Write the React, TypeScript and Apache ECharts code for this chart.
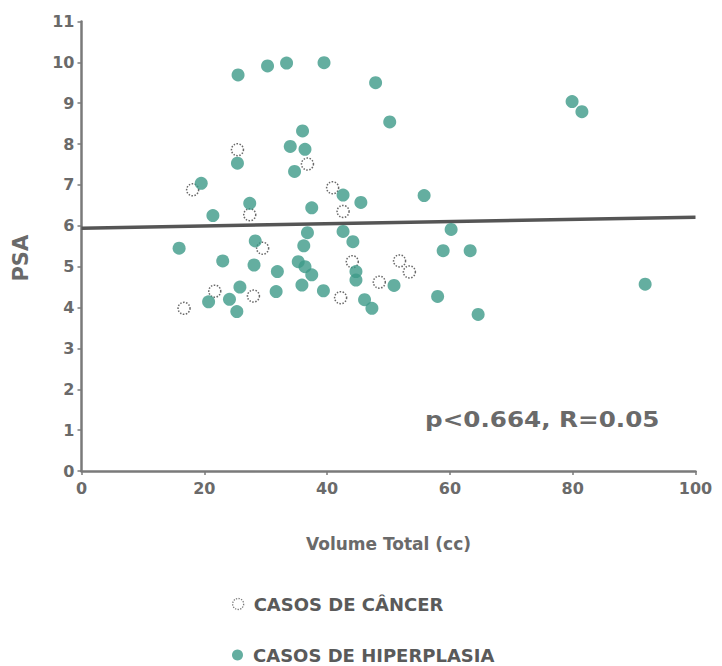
import React, { useEffect, useRef } from "react";
import * as echarts from "echarts";

const cancerX = [25.4, 36.8, 18.1, 40.9, 27.4, 42.6, 29.5, 44.1, 42.2, 48.5, 51.8, 53.4, 21.7, 28.0, 16.7];
const cancerY = [7.86, 7.51, 6.88, 6.93, 6.27, 6.35, 5.45, 5.12, 4.24, 4.62, 5.14, 4.87, 4.40, 4.28, 3.98];

const hiperX = [25.5, 30.3, 33.4, 39.5, 47.9, 50.2, 36.0, 34.0, 36.4, 25.4, 34.7, 19.5, 42.6, 45.5, 27.4, 37.5, 21.4,
  36.8, 42.6, 28.3, 36.2, 44.2, 15.9, 23.0, 28.1, 31.9, 35.3, 36.4, 37.5, 35.9, 31.7, 39.4, 44.7, 44.7, 46.1, 47.3,
  50.9, 25.8, 24.1, 20.7, 25.3, 55.8, 60.2, 58.9, 63.3, 58.0, 64.6, 91.8, 79.9, 81.5];
const hiperY = [9.69, 9.91, 9.98, 9.99, 9.50, 8.54, 8.32, 7.94, 7.87, 7.53, 7.33, 7.04, 6.75, 6.57, 6.55, 6.44, 6.25,
  5.83, 5.86, 5.63, 5.51, 5.61, 5.45, 5.14, 5.04, 4.88, 5.12, 5.00, 4.80, 4.55, 4.39, 4.41, 4.88, 4.67, 4.19, 3.98,
  4.54, 4.50, 4.20, 4.14, 3.90, 6.74, 5.91, 5.39, 5.39, 4.27, 3.83, 4.57, 9.04, 8.79];

const regX = [0, 100];
const regY = [5.94, 6.21];

const xTicks = [0, 20, 40, 60, 80, 100];
const yTicks = [0, 1, 2, 3, 4, 5, 6, 7, 8, 9, 10, 11];

const cancerName = "CASOS DE CÂNCER";
const hiperName = "CASOS DE HIPERPLASIA";
const statsText = "p<0.664, R=0.05";
const xName = "Volume Total (cc)";
const yName = "PSA";

const FONT = "DejaVu Sans";
const GRAY = "#6a6a6a";
const TEAL = "#3d9a88";

export default function App() {
  const ref = useRef<HTMLDivElement>(null);
  useEffect(() => {
    if (!ref.current) return;
    const chart = echarts.init(ref.current, undefined, { renderer: "svg" });
    const axisLine = { show: true, lineStyle: { color: "#7a7a7a", width: 2.5 } };
    const legendText = { color: "#5a5a5a", fontFamily: FONT, fontWeight: "bold", fontSize: 18, lineHeight: 18, padding: [0, 0, 0, 5] };
    chart.setOption({
      animation: false,
      backgroundColor: "#ffffff",
      grid: { left: 81.5, right: 26.5, top: 21.4, bottom: 195, containLabel: false },
      xAxis: {
        type: "value",
        min: xTicks[0],
        max: xTicks[xTicks.length - 1],
        interval: 20,
        splitLine: { show: false },
        axisLine,
        axisTick: { show: true, length: 4, lineStyle: { color: "#7a7a7a", width: 1.5 } },
        axisLabel: { color: GRAY, fontFamily: FONT, fontWeight: "bold", fontSize: 16, margin: 9 },
        name: xName,
        nameLocation: "middle",
        nameGap: 64,
        nameTextStyle: { color: GRAY, fontFamily: FONT, fontWeight: "bold", fontSize: 17 },
      },
      yAxis: {
        type: "value",
        min: yTicks[0],
        max: yTicks[yTicks.length - 1],
        interval: 1,
        splitLine: { show: false },
        axisLine,
        axisTick: { show: true, length: 4, lineStyle: { color: "#7a7a7a", width: 1.5 } },
        axisLabel: { color: GRAY, fontFamily: FONT, fontWeight: "bold", fontSize: 16, margin: 7 },
        name: yName,
        nameLocation: "middle",
        nameGap: 50,
        nameRotate: 90,
        nameTextStyle: { color: GRAY, fontFamily: FONT, fontWeight: "bold", fontSize: 21, padding: [0, 0, 0, -24] },
      },
      legend: [
        {
          orient: "vertical",
          left: 232,
          top: 595,
          padding: 0,
          itemWidth: 11,
          itemHeight: 11,
          textStyle: legendText,
          data: [
            { name: cancerName, icon: "circle", itemStyle: { color: "#ffffff", borderColor: "#555", borderWidth: 1.3, borderType: "dotted" } },
          ],
        },
        {
          orient: "vertical",
          left: 232,
          top: 646,
          padding: 0,
          itemWidth: 11,
          itemHeight: 11,
          textStyle: legendText,
          data: [{ name: hiperName, icon: "circle", itemStyle: { color: TEAL } }],
        },
      ],
      graphic: [
        {
          type: "text",
          x: 425,
          y: 408,
          scaleX: 1.12,
          style: { text: statsText, fill: GRAY, font: `bold 22px "${FONT}"` },
        },
      ],
      series: [
        {
          type: "line",
          name: "regressao",
          data: regX.map((x, i) => [x, regY[i]]),
          symbol: "none",
          lineStyle: { color: "#555555", width: 3.5 },
          z: 1,
          silent: true,
        },
        {
          type: "scatter",
          name: cancerName,
          data: cancerX.map((x, i) => [x, cancerY[i]]),
          symbol: "circle",
          symbolSize: 12,
          itemStyle: { color: "#ffffff", borderColor: "#444", borderWidth: 1.5, borderType: "dotted" },
          z: 3,
        },
        {
          type: "scatter",
          name: hiperName,
          data: hiperX.map((x, i) => [x, hiperY[i]]),
          symbol: "circle",
          symbolSize: 13,
          itemStyle: { color: TEAL },
          z: 4,
        },
      ],
    });
    return () => chart.dispose();
  }, []);
  return <div ref={ref} style={{ position: "fixed", left: 0, top: 0, width: 722, height: 666, background: "#fff" }} />;
}
